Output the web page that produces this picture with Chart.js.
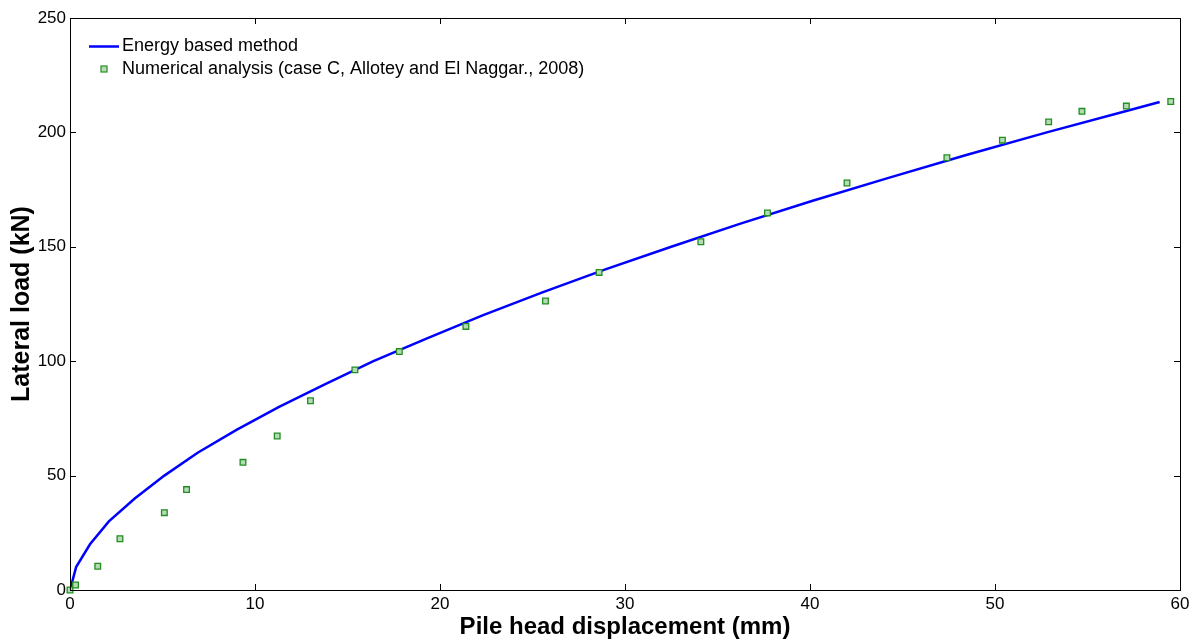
<!DOCTYPE html>
<html>
<head>
<meta charset="utf-8">
<script src="https://cdn.jsdelivr.net/npm/chart.js@4.4.1/dist/chart.umd.min.js"></script>
<style>
html,body{margin:0;padding:0;background:#fff;}
#wrap{width:1196px;height:639px;position:relative;}
</style>
</head>
<body>
<div id="wrap"><canvas id="c" width="1196" height="639"></canvas></div>
<script>
// Energy based method (line)
const energyDisp = [0, 0.33, 1.08, 2.1, 3.5, 5.1, 6.9, 9.0, 11.3, 13.8, 16.4, 19.3, 22.3, 25.5, 28.9, 32.5, 36.2, 40.1, 44.2, 48.4, 52.8, 57.4, 58.9];
const energyLoad = [0, 10, 20, 30, 40, 50, 60, 70, 80, 90, 100, 110, 120, 130, 140, 150, 160, 170, 180, 190, 200, 210, 213.3];
// Numerical analysis (case C, Allotey and El Naggar, 2008)
const numDisp = [0, 0.3, 1.5, 2.7, 5.1, 6.3, 9.35, 11.2, 13.0, 15.4, 17.8, 21.4, 25.7, 28.6, 34.1, 37.7, 42.0, 47.4, 50.4, 52.9, 54.7, 57.1, 59.5];
const numLoad = [0, 2.2, 10.4, 22.4, 33.8, 43.9, 55.8, 67.3, 82.7, 96.2, 104.2, 115.2, 126.3, 138.8, 152.2, 164.8, 177.9, 188.9, 196.6, 204.6, 209.2, 211.5, 213.5];
const xTicks = [0, 10, 20, 30, 40, 50, 60];
const yTicks = [0, 50, 100, 150, 200, 250];
const seriesNames = ['Energy based method', 'Numerical analysis (case C, Allotey and El Naggar., 2008)'];
const xTitle = 'Pile head displacement (mm)';
const yTitle = 'Lateral load (kN)';

const FONT = 'Arial, "Liberation Sans", sans-serif';
const lineColor = '#0000ff';
const markFill = '#b7d9b7';
const markEdge = '#1f8f1f';

const framePlugin = {
  id: 'frame',
  afterDatasetsDraw(chart) {
    const {ctx, chartArea: a, scales} = chart;
    ctx.save();
    ctx.strokeStyle = '#000';
    ctx.lineWidth = 1;
    ctx.strokeRect(Math.round(a.left) + 0.5, Math.round(a.top) + 0.5, Math.round(a.right - a.left), Math.round(a.bottom - a.top));
    const tl = 6;
    ctx.beginPath();
    xTicks.forEach(v => {
      const px = Math.round(scales.x.getPixelForValue(v)) + 0.5;
      ctx.moveTo(px, a.bottom); ctx.lineTo(px, a.bottom - tl);
      ctx.moveTo(px, a.top); ctx.lineTo(px, a.top + tl);
    });
    yTicks.forEach(v => {
      const py = Math.round(scales.y.getPixelForValue(v)) + 0.5;
      ctx.moveTo(a.left, py); ctx.lineTo(a.left + tl, py);
      ctx.moveTo(a.right, py); ctx.lineTo(a.right - tl, py);
    });
    ctx.stroke();
    // legend
    const lx = a.left + 19, ly1 = a.top + 28.5, ly2 = a.top + 51;
    ctx.strokeStyle = lineColor; ctx.lineWidth = 2.5;
    ctx.beginPath(); ctx.moveTo(lx, ly1); ctx.lineTo(lx + 30, ly1); ctx.stroke();
    ctx.fillStyle = markFill; ctx.strokeStyle = markEdge; ctx.lineWidth = 1.2;
    ctx.fillRect(lx + 12, ly2 - 3, 6, 6); ctx.strokeRect(lx + 12, ly2 - 3, 6, 6);
    ctx.fillStyle = '#000'; ctx.font = '18px ' + FONT; ctx.textBaseline = 'middle'; ctx.textAlign = 'left';
    ctx.fillText(seriesNames[0], lx + 33, ly1);
    ctx.fillText(seriesNames[1], lx + 33, ly2);
    ctx.restore();
  }
};

new Chart(document.getElementById('c'), {
  type: 'scatter',
  data: {
    datasets: [
      {
        label: seriesNames[0],
        data: energyDisp.map((x, i) => ({x, y: energyLoad[i]})),
        showLine: true,
        borderColor: lineColor,
        borderWidth: 2.5,
        pointRadius: 0,
        fill: false,
        tension: 0,
        order: 2
      },
      {
        label: seriesNames[1],
        data: numDisp.map((x, i) => ({x, y: numLoad[i]})),
        showLine: false,
        clip: false,
        pointStyle: 'rect',
        pointRadius: 4,
        backgroundColor: markFill,
        borderColor: markEdge,
        pointBorderWidth: 1.3,
        order: 1
      }
    ]
  },
  options: {
    responsive: false,
    animation: false,
    layout: {padding: {top: 18, right: 16, left: 0, bottom: 0}},
    plugins: {legend: {display: false}, tooltip: {enabled: false}},
    scales: {
      x: {
        type: 'linear', min: 0, max: 60,
        afterBuildTicks: s => { s.ticks = xTicks.map(v => ({value: v})); },
        afterFit: s => { s.height = 49; },
        grid: {display: false, drawTicks: false},
        border: {display: false},
        ticks: {color: '#000', font: {family: FONT, size: 17}, padding: 4, maxRotation: 0},
        title: {display: true, text: xTitle, color: '#000', font: {family: FONT, size: 24, weight: 'bold', lineHeight: 1}, padding: {top: 0, bottom: 0}}
      },
      y: {
        type: 'linear', min: 0, max: 250,
        afterBuildTicks: s => { s.ticks = yTicks.map(v => ({value: v})); },
        afterFit: s => { s.width = 70; },
        grid: {display: false, drawTicks: false},
        border: {display: false},
        ticks: {color: '#000', font: {family: FONT, size: 17}, padding: 4},
        title: {display: true, text: yTitle, color: '#000', font: {family: FONT, size: 25, weight: 'bold', lineHeight: 1}, padding: {top: 10, bottom: 0}}
      }
    }
  },
  plugins: [framePlugin]
});
</script>
</body>
</html>
